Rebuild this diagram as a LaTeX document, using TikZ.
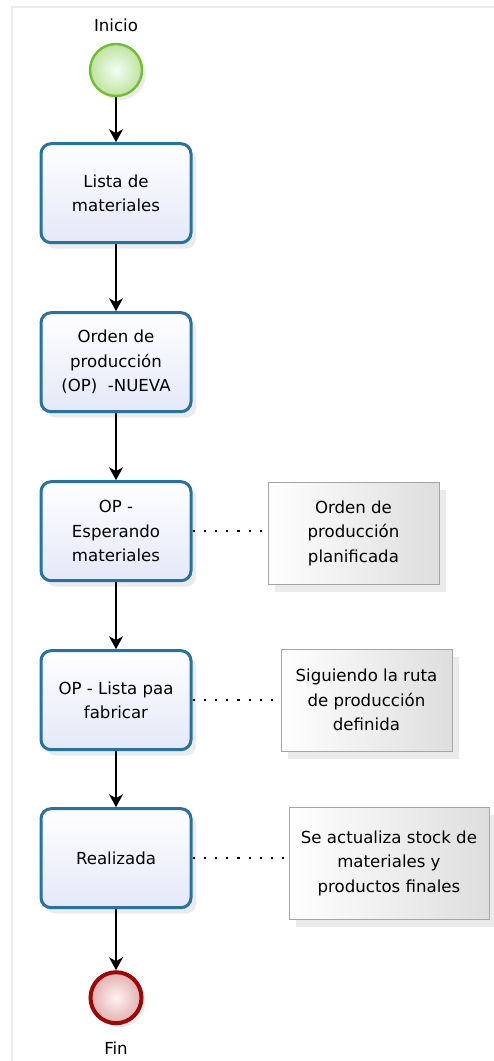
\documentclass[tikz,border=0pt]{standalone}
\usepackage{fontspec}
\setmainfont{DejaVu Sans}
\usepackage{xcolor}
\usetikzlibrary{arrows.meta, positioning, shadows}

\definecolor{taskblue}{RGB}{36,114,166}
\definecolor{taskfill}{RGB}{228,232,248}
\definecolor{startgreen}{RGB}{112,192,46}
\definecolor{endred}{RGB}{160,6,6}
\definecolor{notegray}{RGB}{165,165,165}
\definecolor{framegray}{RGB}{236,236,236}

\begin{document}
\begin{tikzpicture}[
    x=1pt, y=1pt,
    node distance = 67pt and 75pt,
    every node/.style = {font=\fontsize{16.6}{24.5}\selectfont},
    task/.style  = {rectangle, draw=taskblue, line width=3pt, rounded corners=10pt,
                    minimum width=150pt, minimum height=99pt, align=center,
                    top color=white, bottom color=taskfill,
                    drop shadow={shadow xshift=5pt, shadow yshift=-6pt, opacity=0.16}},
    note/.style  = {rectangle, draw=notegray, line width=0.9pt,
                    minimum width=171pt, minimum height=102pt, align=center,
                    left color=white, right color=black!13,
                    drop shadow={shadow xshift=7pt, shadow yshift=-8pt, opacity=0.16}},
    startev/.style = {circle, draw=startgreen, line width=2.4pt, minimum size=52pt,
                      inner color=green!5!white, outer color=startgreen!45!white,
                      drop shadow={shadow xshift=4pt, shadow yshift=-4pt, opacity=0.15}},
    endev/.style   = {circle, draw=endred, line width=4pt, minimum size=51pt,
                      inner color=red!5!white, outer color=endred!32!white,
                      drop shadow={shadow xshift=4pt, shadow yshift=-4pt, opacity=0.15}},
    arr/.style   = {-{Stealth[length=13pt, width=14pt, inset=4pt]}, line width=1.5pt},
    assoc/.style = {line width=2.2pt, dash pattern=on 2.2pt off 9pt}
]
  \useasboundingbox (0,0) rectangle (494,-1061);
  % pool frame
  \draw[framegray, line width=1.6pt] (12,-1061) -- (12,-7) -- (494,-7);

  \node[startev] (start) at (116,-70) {};
  \node[above=8pt of start] (startlbl) {Inicio};

  \node[task, below=45pt of start] (lista)    {Lista de\\materiales};
  \node[task, below=of lista]      (nueva)    {\fontsize{16.6}{22}\selectfont Orden de\\producción\\(OP)\ \ -NUEVA};
  \node[task, below=of nueva]      (espera)   {OP -\\Esperando\\materiales};
  \node[task, below=of espera]     (fabricar) {OP - Lista paa\\fabricar};
  \node[task, below=56pt of fabricar] (hecha) {Realizada};

  \node[endev, below=61pt of hecha] (fin) {};
  \node[below=13pt of fin] (finlbl) {Fin};

  \draw[arr] (start)    -- (lista);
  \draw[arr] (lista)    -- (nueva);
  \draw[arr] (nueva)    -- (espera);
  \draw[arr] (espera)   -- (fabricar);
  \draw[arr] (fabricar) -- (hecha);
  \draw[arr] (hecha)    -- (fin);

  % annotations
  \node[note, right=75pt of espera, yshift=-2pt] (n1) {Orden de\\producción\\planificada};
  \node[note, right=88pt of fabricar] (n2) {Siguiendo la ruta\\de producción\\definida};
  \node[note, right=96pt of hecha, yshift=-5pt, minimum width=200pt, minimum height=112pt]
        (n3) {Se actualiza stock de\\materiales y\\productos finales};

  \draw[assoc] (espera.east)   -- (espera.east -| n1.west);
  \draw[assoc] (fabricar.east) -- (fabricar.east -| n2.west);
  \draw[assoc] (hecha.east)    -- (hecha.east -| n3.west);
\end{tikzpicture}
\end{document}
